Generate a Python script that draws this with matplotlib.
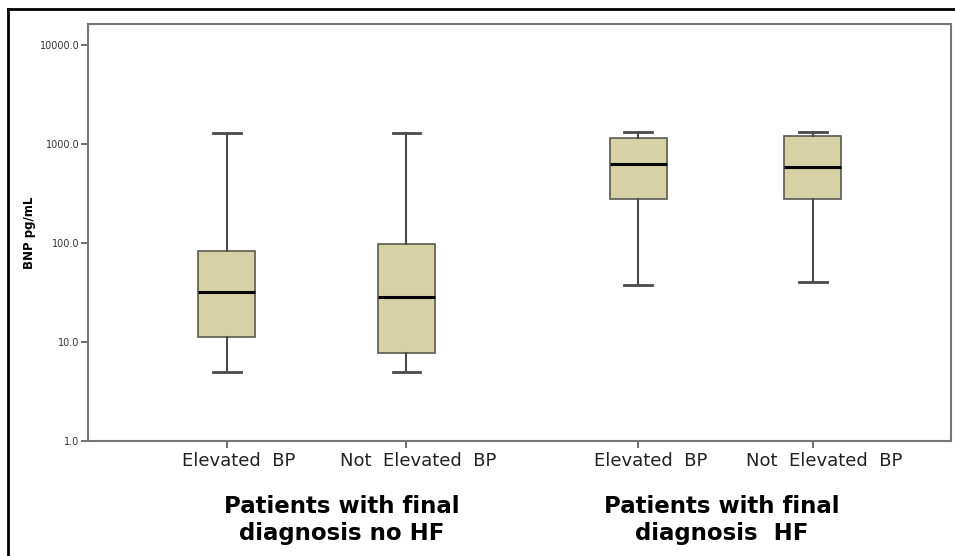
import numpy as np
import matplotlib
matplotlib.use('Agg')
import matplotlib.pyplot as plt
import matplotlib.transforms as mtransforms
from matplotlib.lines import Line2D

# BNP values (pg/mL), log axis
labels = ['Elevated  BP', 'Not  Elevated  BP', 'Elevated  BP', 'Not  Elevated  BP']
whislo = [5.0, 5.0, 37.5, 40.5]
q1 = [11.3, 7.8, 277, 280]
med = [32, 28.5, 625, 585]
q3 = [83, 97, 1150, 1210]
whishi = [1300, 1300, 1310, 1310]
groups = ['Patients with final\ndiagnosis no HF', 'Patients with final\ndiagnosis  HF']

positions = [1.0, 2.0, 3.29, 4.26]
box_face = '#d6d2a6'
edge = '#4a4a4a'

stats = [dict(whislo=a, q1=b, med=c, q3=d, whishi=e, fliers=[], label=l)
         for a, b, c, d, e, l in zip(whislo, q1, med, q3, whishi, labels)]

fig = plt.figure(figsize=(9.55, 5.56), dpi=100)
ax = fig.add_axes([88/955, 1 - 441/556, (951-88)/955, (441-24)/556])

ax.bxp(stats, positions=positions, widths=0.32, capwidths=0.155,
       patch_artist=True, showfliers=False,
       boxprops=dict(facecolor=box_face, edgecolor='#5a5a50', linewidth=1.2),
       medianprops=dict(color='black', linewidth=2.2),
       whiskerprops=dict(color=edge, linewidth=1.5),
       capprops=dict(color=edge, linewidth=2.0))

ax.set_yscale('log')
ax.set_ylim(1.0, 10**4.212)
ax.set_xlim(0.228, 5.03)
yt = [1, 10, 100, 1000, 10000]
ax.set_yticks(yt)
ax.set_yticklabels(['%.1f' % v for v in yt], fontsize=7, color='#333333')
ax.yaxis.set_minor_locator(matplotlib.ticker.NullLocator())
ax.tick_params(axis='y', length=5, width=1.2, color='#555555', pad=1)
ax.tick_params(axis='x', length=5, width=1.2, color='#555555', pad=3)
ax.set_xticks(positions)
ax.set_xticklabels(labels, fontsize=13, color='#222222')
# labels sit a little right of their ticks in the original
shift = mtransforms.ScaledTranslation(12/100, 0, fig.dpi_scale_trans)
for t in ax.get_xticklabels():
    t.set_transform(t.get_transform() + shift)
for s in ax.spines.values():
    s.set_color('#777777')
    s.set_linewidth(1.5)

ax.set_ylabel('BNP pg/mL', fontsize=8.5, fontweight='bold')
ax.yaxis.set_label_coords(-0.06, 0.5)

# group captions under the pairs of boxes
for xc, g in zip([342, 722], groups):
    fig.text(xc/955, 1 - 520/556, g, ha='center', va='center',
             fontsize=16.5, fontweight='bold', linespacing=1.2)

# outer black frame (left and top edges visible)
fig.add_artist(Line2D([8/955, 8/955], [0, 1 - 9/556], color='black', lw=2))
fig.add_artist(Line2D([8/955, 1], [1 - 9/556, 1 - 9/556], color='black', lw=2))

fig.savefig('out.png', dpi=100)
plt.close()
